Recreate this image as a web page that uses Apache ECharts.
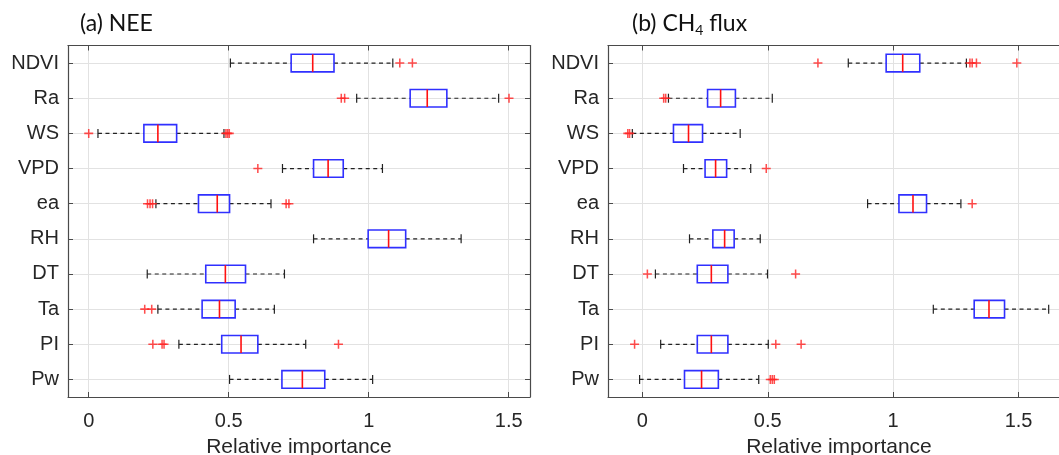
<!DOCTYPE html>
<html>
<head>
<meta charset="utf-8">
<title>Relative importance</title>
<script src="https://cdn.jsdelivr.net/npm/echarts@6/dist/echarts.min.js"></script>
<style>
    html, body { margin: 0; padding: 0; background: #fff; }
    #main { width: 1059px; height: 455px; }
</style>
</head>
<body>
<div id="main"></div>
<script>
// 变量顺序，自上而下
const categories = ['NDVI', 'Ra', 'WS', 'VPD', 'ea', 'RH', 'DT', 'Ta', 'PI', 'Pw']
const xTicks = [0, 0.5, 1, 1.5]

// (a) NEE：下须、Q1、中位数、Q3、上须
const neeLow = [0.506, 0.957, 0.033, 0.692, 0.240, 0.803, 0.209, 0.247, 0.322, 0.503]
const neeQ1 = [0.723, 1.148, 0.197, 0.803, 0.392, 0.998, 0.418, 0.405, 0.475, 0.690]
const neeMedian = [0.800, 1.209, 0.247, 0.855, 0.459, 1.071, 0.488, 0.467, 0.544, 0.763]
const neeQ3 = [0.876, 1.279, 0.314, 0.909, 0.503, 1.132, 0.560, 0.523, 0.604, 0.843]
const neeHigh = [1.086, 1.464, 0.483, 1.049, 0.651, 1.330, 0.699, 0.663, 0.775, 1.014]
const neeOutliers = [
    [1.111, 1.156],
    [0.902, 0.914, 1.501],
    [0.000, 0.490, 0.496, 0.502],
    [0.604],
    [0.210, 0.219, 0.228, 0.705, 0.715],
    [],
    [],
    [0.200, 0.225],
    [0.229, 0.262, 0.269, 0.892],
    []
]

// (b) CH4 flux
const ch4Low = [0.821, 0.104, -0.040, 0.164, 0.898, 0.188, 0.052, 1.160, 0.073, -0.011]
const ch4Q1 = [0.972, 0.260, 0.124, 0.250, 1.023, 0.281, 0.219, 1.323, 0.219, 0.168]
const ch4Median = [1.038, 0.312, 0.184, 0.292, 1.079, 0.328, 0.275, 1.382, 0.275, 0.236]
const ch4Q3 = [1.106, 0.371, 0.240, 0.336, 1.133, 0.366, 0.341, 1.444, 0.341, 0.303]
const ch4High = [1.292, 0.518, 0.390, 0.432, 1.270, 0.470, 0.499, 1.620, 0.502, 0.464]
const ch4Outliers = [
    [0.700, 1.306, 1.315, 1.332, 1.493],
    [0.085, 0.093],
    [-0.058, -0.051],
    [0.494],
    [1.315],
    [],
    [0.020, 0.611],
    [],
    [-0.031, 0.532, 0.633],
    [0.510, 0.518, 0.526]
]

const FONT = '"Liberation Sans", Arial, sans-serif'
const frameColor = '#4a4a4a'
const gridColor = '#e2e2e2'
const plusSymbol = 'path://M0,4.15H10V5.85H0ZM4.15,0H5.85V10H4.15Z'

const boxRows = (low, q1, med, q3, high) => categories.map((c, i) => [i, low[i], q1[i], med[i], q3[i], high[i]])
const outlierPoints = outliers => {
    const pts = []
    outliers.forEach((list, i) => {
        list.forEach((v) => { pts.push([v, i]) })
    })
    return pts
}

// 画 MATLAB 风格的箱线：虚线须、黑色端帽、蓝框、红色中位线
function renderBox(params, api) {
    const ci = api.value(0)
    const pLow = api.coord([api.value(1), ci])
    const pQ1 = api.coord([api.value(2), ci])
    const pMed = api.coord([api.value(3), ci])
    const pQ3 = api.coord([api.value(4), ci])
    const pHigh = api.coord([api.value(5), ci])
    const band = api.size([0, 1])[1]
    const h = band * 0.5
    const y = pMed[1]
    const cap = 4.5
    const dash = { stroke: '#222', lineWidth: 1.2, lineDash: [4, 3.5] }
    const solid = { stroke: '#222', lineWidth: 1.2 }
    return {
        type: 'group',
        children: [
            { type: 'line', shape: { x1: pLow[0], y1: y, x2: pQ1[0], y2: y }, style: dash },
            { type: 'line', shape: { x1: pQ3[0], y1: y, x2: pHigh[0], y2: y }, style: dash },
            { type: 'line', shape: { x1: pLow[0], y1: y - cap, x2: pLow[0], y2: y + cap }, style: solid },
            { type: 'line', shape: { x1: pHigh[0], y1: y - cap, x2: pHigh[0], y2: y + cap }, style: solid },
            {
                type: 'rect',
                shape: { x: pQ1[0], y: y - h / 2, width: pQ3[0] - pQ1[0], height: h },
                style: { fill: 'rgba(255,255,255,0)', stroke: '#3030ff', lineWidth: 1.6 }
            },
            { type: 'line', shape: { x1: pMed[0], y1: y - h / 2, x2: pMed[0], y2: y + h / 2 }, style: { stroke: '#ff1010', lineWidth: 1.6 } }
        ]
    }
}

const valueAxis = (gridIndex, min, max, bottom) => ({
    type: 'value',
    gridIndex,
    position: bottom ? 'bottom' : 'top',
    min,
    max,
    splitNumber: 3,
    name: bottom ? 'Relative importance' : '',
    nameLocation: 'middle',
    nameGap: 40,
    nameTextStyle: { fontFamily: FONT, fontSize: 21, color: '#262626' },
    axisLine: { show: true, onZero: false, lineStyle: { color: frameColor, width: 1.2 } },
    axisTick: { show: true, inside: true, length: 5, lineStyle: { color: frameColor } },
    axisLabel: {
        show: bottom,
        margin: 14,
        fontFamily: FONT,
        fontSize: 20,
        color: '#262626',
        formatter: v => (xTicks.some(t => Math.abs(t - v) < 1e-6) ? String(v) : '')
    },
    splitLine: { show: bottom, lineStyle: { color: gridColor, width: 1 } }
})

const catAxis = (gridIndex, left) => ({
    type: 'category',
    gridIndex,
    position: left ? 'left' : 'right',
    data: categories,
    inverse: true,
    axisLine: { show: true, onZero: false, lineStyle: { color: frameColor, width: 1.2 } },
    axisTick: { show: true, inside: true, length: 5, alignWithLabel: true, lineStyle: { color: frameColor } },
    axisLabel: { show: left, margin: 9, fontFamily: FONT, fontSize: 20, color: '#262626' },
    splitLine: { show: left, alignWithLabel: true, lineStyle: { color: gridColor, width: 1 } }
})

const chart = echarts.init(document.getElementById('main'), null, { renderer: 'canvas' })

chart.setOption({
    animation: false,
    backgroundColor: '#fff',
    title: [
        {
            text: '(a) NEE',
            left: 80,
            top: 10,
            padding: 0,
            textStyle: { fontFamily: 'Lato', fontSize: 23, fontWeight: 'normal', color: '#111', lineHeight: 28 }
        },
        {
            text: '(b) CH{sub|4} flux',
            left: 632,
            top: 10,
            padding: 0,
            textStyle: {
                fontFamily: 'Lato',
                fontSize: 23,
                fontWeight: 'normal',
                color: '#111',
                lineHeight: 28,
                rich: {
                    sub: { fontFamily: 'Lato', fontSize: 14, color: '#111', padding: [12, 0, 0, 0] }
                }
            }
        }
    ],
    grid: [
        { left: 68, top: 45.5, width: 462, height: 351.5, outerBoundsMode: 'none' },
        { left: 608, top: 45.5, width: 462, height: 351.5, outerBoundsMode: 'none' }
    ],
    xAxis: [
        valueAxis(0, -0.074, 1.576, true),
        valueAxis(0, -0.074, 1.576, false),
        valueAxis(1, -0.137, 1.705, true),
        valueAxis(1, -0.137, 1.705, false)
    ],
    yAxis: [
        catAxis(0, true),
        catAxis(0, false),
        catAxis(1, true),
        catAxis(1, false)
    ],
    series: [
        {
            type: 'custom',
            xAxisIndex: 0,
            yAxisIndex: 0,
            renderItem: renderBox,
            encode: { x: [1, 2, 3, 4, 5], y: 0 },
            data: boxRows(neeLow, neeQ1, neeMedian, neeQ3, neeHigh),
            z: 3
        },
        {
            type: 'scatter',
            xAxisIndex: 0,
            yAxisIndex: 0,
            symbol: plusSymbol,
            symbolSize: 9,
            itemStyle: { color: '#ff2020' },
            data: outlierPoints(neeOutliers),
            z: 4
        },
        {
            type: 'custom',
            xAxisIndex: 2,
            yAxisIndex: 2,
            renderItem: renderBox,
            encode: { x: [1, 2, 3, 4, 5], y: 0 },
            data: boxRows(ch4Low, ch4Q1, ch4Median, ch4Q3, ch4High),
            z: 3
        },
        {
            type: 'scatter',
            xAxisIndex: 2,
            yAxisIndex: 2,
            symbol: plusSymbol,
            symbolSize: 9,
            itemStyle: { color: '#ff2020' },
            data: outlierPoints(ch4Outliers),
            z: 4
        }
    ]
})
</script>
</body>
</html>
